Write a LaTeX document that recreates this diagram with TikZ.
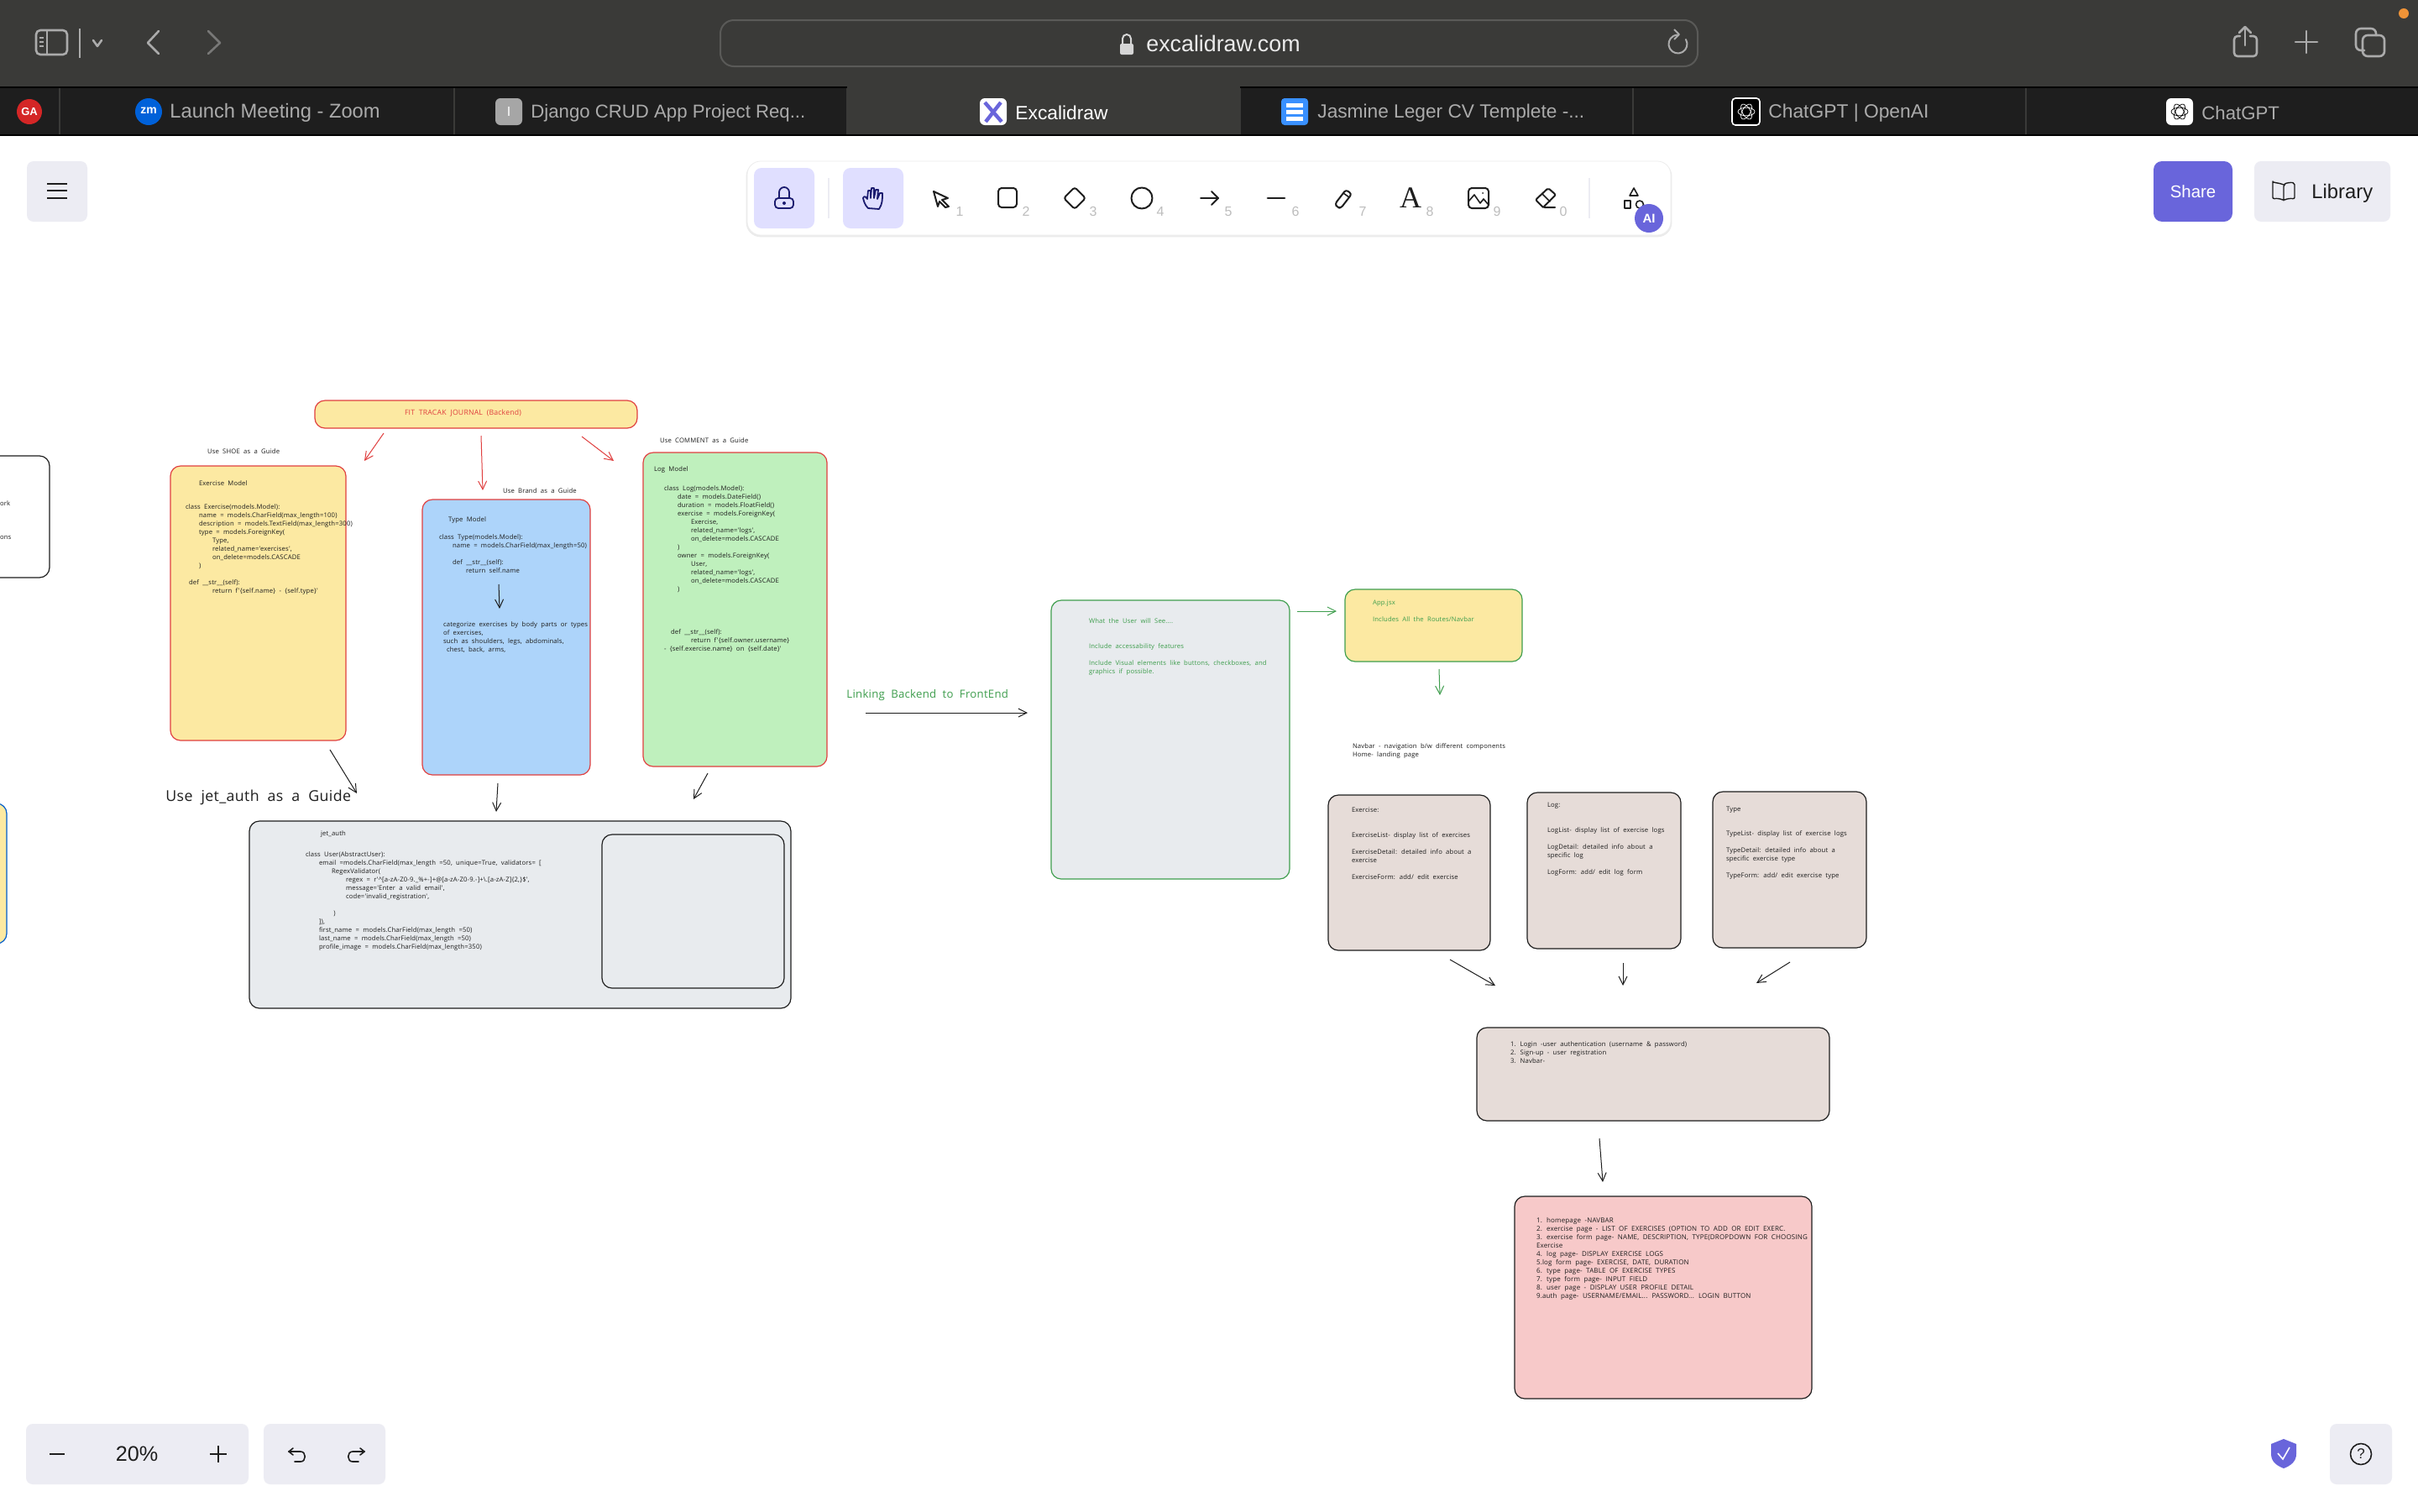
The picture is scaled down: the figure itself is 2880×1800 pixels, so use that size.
\documentclass[tikz,border=0pt]{standalone}
\usepackage{fontspec}
\setmainfont{Liberation Sans}
\newfontfamily\hand[LetterSpace=2,WordSpace=2]{Open Sans}
\newfontfamily\serifA{Liberation Serif}
\usetikzlibrary{arrows.meta}
\definecolor{cTop}{HTML}{3A3A38}
\definecolor{cTab}{HTML}{1E1E1E}
\definecolor{cTabTx}{HTML}{ABABAB}
\definecolor{cRed}{HTML}{E03F3F}
\definecolor{cGreen}{HTML}{3F9E4E}
\definecolor{cYel}{HTML}{FCE9A2}
\definecolor{cBlu}{HTML}{ADD4FA}
\definecolor{cGrn}{HTML}{BFF0BD}
\definecolor{cGry}{HTML}{E8EBEE}
\definecolor{cTau}{HTML}{E6DCD8}
\definecolor{cPnk}{HTML}{F7C9C9}
\definecolor{cBtn}{HTML}{ECECF3}
\definecolor{cLav}{HTML}{E0DFFF}
\definecolor{cPur}{HTML}{6965DB}
\definecolor{cNavy}{HTML}{1B1B6F}
\definecolor{cInk}{HTML}{1E1E1E}
\definecolor{cNum}{HTML}{BDBDBD}
\definecolor{cAddr}{HTML}{5A5A58}
\tikzset{
  card/.style={draw,rounded corners=6pt,line width=0.6pt,inner sep=0pt,outer sep=0pt},
  redcard/.style={card,draw=cRed},
  greencard/.style={card,draw=cGreen},
  inkcard/.style={card,draw=cInk},
  code/.style={font=\hand\fontsize{3.85}{5}\selectfont,text=cInk},
  pagecode/.style={font=\hand\fontsize{4}{5}\selectfont,text=cInk},
  greencode/.style={code,text=cGreen},
  redcode/.style={font=\hand\fontsize{4.35}{5}\selectfont,text=cRed},
  arr/.style={-{Straight Barb[length=5pt,width=5pt]},line width=0.5pt,cInk},
  redarr/.style={arr,cRed},
  greenarr/.style={arr,cGreen},
  tabtx/.style={text=cTabTx,anchor=west,inner sep=0pt},
  icon/.style={line width=1pt,cInk,line join=round,line cap=round},
  chrome/.style={line width=1.3pt,draw=#1,line join=round,line cap=round},
  chrome/.default={cTabTx},
  num/.style={font=\fontsize{8}{9}\selectfont,text=cNum,inner sep=0pt},
  btn/.style={fill=cBtn,rounded corners=4pt},
}
\newcommand\bx[6]{%
  \pgfmathsetmacro\bw{(#5-#3)/2}\pgfmathsetmacro\bh{(#6-#4)/2}%
  \node[#2,anchor=north west,minimum width=\bw pt,minimum height=\bh pt] (#1) at (#3,#4) {};}
\newcommand\tx[5]{\node[#2,anchor=north west,inner sep=0pt,outer sep=0pt,align=left] (#1) at (#3,{#4-4.5}) {\rule{0pt}{3.5pt}#5};}
\newcommand\ind[1]{\hspace*{#1pt}}
\newcommand\arw[6]{\coordinate (#1s) at (#3,#4);\coordinate (#1e) at (#5,#6);\draw[#2] (#1s) -- (#1e);}
\newcommand\knot[3]{\foreach \a in {0,60,120}{\draw[line width=0.35pt,#3,rotate around={\a:(#1,#2)}] (#1,#2) ellipse (5pt and 2.4pt);}}
\newcommand\fs[1]{\fontsize{#1}{14}\selectfont}
\begin{document}
\begin{tikzpicture}[x=0.5pt,y=-0.5pt]
\useasboundingbox (0,0) rectangle (2880,1800);
\fill[white] (0,0) rectangle (2880,1800);
% ---------- browser chrome
\fill[cTop] (0,0) rectangle (2880,160);
\fill[cTab] (0,104) rectangle (1009,160);
\fill[cTab] (1477,104) rectangle (2880,160);
\draw[black,line width=1pt] (0,104) -- (1009,104);
\draw[black,line width=1pt] (1477,104) -- (2880,104);
\draw[black,line width=1pt] (0,160.5) -- (2880,160.5);
\foreach \s in {71,541,1009,1477,1945,2413}{\draw[cTop,line width=0.6pt] (\s,105) -- (\s,160);}
\draw[draw=cAddr,line width=1pt,rounded corners=8pt] (858,24) rectangle (2022,79);
% sidebar icon
\draw[chrome,rounded corners=2.5pt] (43,36) rectangle (80,65);
\draw[chrome,line width=0.8pt] (56,36) -- (56,65);
\draw[cTabTx,line width=0.6pt] (95,34) -- (95,69);
\foreach \yy in {45,50,55}{\draw[cTabTx,line width=0.8pt] (47,\yy) -- (52,\yy);}
\draw[chrome] (111,48) -- (116,55) -- (121,48);
\draw[chrome] (189,37) -- (176,51) -- (189,64);
\draw[chrome=cTabTx!55!cTop] (248,37) -- (262,51) -- (248,64);
% address
\fill[cTabTx!50!white,rounded corners=1pt] (1334,52) rectangle (1350,65);
\draw[cTabTx!50!white,line width=1pt] (1337,52) -- (1337,46) arc (180:360:5) -- (1347,52);
\node[font=\fontsize{13.4}{15}\selectfont,text=white!92!black,inner sep=0pt] (addr) at (1457,52) {excalidraw.com};
\draw[chrome,line width=1pt] (2008,47) arc (-30:270:11);
\draw[cTabTx,line width=1pt,line join=round] (1994,35) -- (2000,41) -- (1994,47);
% top right
\fill[orange!70!brown!85!white] (2863,16) ellipse (6 and 6);
\draw[chrome,rounded corners=2pt] (2668,43) -- (2661,43) -- (2661,67) -- (2688,67) -- (2688,43) -- (2680,43);
\draw[chrome] (2674,54) -- (2674,32);
\draw[chrome] (2667,39) -- (2674,32) -- (2681,39);
\draw[chrome] (2747,37) -- (2747,63);
\draw[chrome] (2734,50) -- (2760,50);
\draw[chrome,rounded corners=3pt] (2816,60) -- (2806,60) -- (2806,34) -- (2830,34) -- (2830,42);
\draw[chrome,rounded corners=3pt] (2814,42) rectangle (2840,67);
% tabs
\fill[red!80!black!85!white] (35,133) circle[radius=15];
\node[font=\bfseries\fontsize{6.5}{7}\selectfont,text=white,inner sep=0pt] (ga) at (35,133) {GA};
\fill[blue!55!cyan!85!black] (177,133) circle[radius=16];
\node[font=\bfseries\fontsize{7}{8}\selectfont,text=white,inner sep=0pt] (zm) at (177,132) {zm};
\node[tabtx,font=\fs{11.85}] (t1) at (202,134.5) {Launch Meeting - Zoom};
\fill[gray!70,rounded corners=3pt] (590,117) rectangle (622,149);
\node[font=\fontsize{8}{9}\selectfont,text=white,inner sep=0pt] (ti) at (606,133) {I};
\node[tabtx,font=\fs{11.1}] (t2) at (632,134.5) {Django CRUD App Project Req...};
\fill[white,rounded corners=3pt] (1167,117) rectangle (1199,149);
\draw[cPur,line width=2.2pt] (1173,122) -- (1193,145);
\draw[cPur,line width=2.2pt] (1192,122) -- (1174,145);
\node[tabtx,text=white,font=\fs{11.4}] (t3) at (1209,134.5) {Excalidraw};
\fill[blue!35!cyan!70!white!75!blue,rounded corners=2pt] (1526,117) rectangle (1558,149);
\foreach \yy in {125,133,141}{\fill[white] (1532,\yy-2.5) rectangle (1552,\yy+2.5);}
\node[tabtx,font=\fs{11.35}] (t4) at (1569,134.5) {Jasmine Leger CV Templete -...};
\fill[black,draw=white,line width=0.8pt,rounded corners=2pt] (2063,117) rectangle (2096,149);
\knot{2080}{133}{white}
\node[tabtx,font=\fs{11.4}] (t5) at (2106,134.5) {ChatGPT | OpenAI};
\fill[white,rounded corners=3pt] (2580,117) rectangle (2612,149);
\knot{2596}{133}{black}
\node[tabtx,font=\fs{11.1}] (t6) at (2622,134.5) {ChatGPT};
% ---------- excalidraw UI
\fill[btn] (32,192) rectangle (104,264);
\foreach \yy in {219,227,236}{\draw[cInk,line width=1pt] (56,\yy) -- (80,\yy);}
\draw[black!8,line width=1.4pt,rounded corners=8pt] (890,194) rectangle (1990,281);
\fill[white,rounded corners=8pt] (890,192) rectangle (1990,280);
\draw[black!7,line width=0.4pt,rounded corners=8pt] (890,192) rectangle (1990,280);
\fill[cLav,rounded corners=4.5pt] (898,200) rectangle (970,272);
\fill[cLav,rounded corners=4.5pt] (1004,200) rectangle (1076,272);
\draw[cBtn,line width=0.6pt] (987,212) -- (987,260);
\draw[cBtn,line width=0.6pt] (1893,212) -- (1893,260);
\draw[cNavy,line width=0.9pt,rounded corners=2pt] (923,236) rectangle (945,248);
\draw[cNavy,line width=0.9pt] (928,236) -- (928,229) arc (180:360:6) -- (940,236);
\fill[cNavy] (934,242) circle[radius=2];
\draw[cNavy,line width=0.9pt,line join=round,line cap=round] (1034,248) .. controls (1030,244) and (1029,240) .. (1028,236) .. controls (1029,233) and (1031,234) .. (1033,237) -- (1034,227) -- (1037,227) -- (1037,236) -- (1038,224) -- (1041,224) -- (1041,236) -- (1043,226) -- (1046,226) -- (1045,237) -- (1048,230) -- (1051,230) .. controls (1051,238) and (1051,243) .. (1047,249) -- cycle;
\draw[icon] (1112,228) -- (1129,236) -- (1122,238) -- (1130,246) -- (1126,247) -- (1119,240) -- (1117,246) -- cycle;
\draw[icon,rounded corners=2pt] (1189,224) rectangle (1211,247);
\draw[icon,rounded corners=1.5pt] (1280,223) -- (1293,236) -- (1280,249) -- (1267,236) -- cycle;
\draw[icon] (1360,236) circle[radius=12.5];
\draw[icon] (1430,236) -- (1451,236);
\draw[icon] (1443,228) -- (1451,236) -- (1443,244);
\draw[icon,line width=1.4pt] (1510,236) -- (1530,236);
\draw[icon,rounded corners=1.5pt] (1593,247) -- (1590,243) -- (1603,226) -- (1610,231) -- (1597,248) -- cycle;
\draw[icon,line width=0.8pt] (1600,230) -- (1607,235);
\node[font=\serifA\fontsize{18}{20}\selectfont,text=cInk,inner sep=0pt] (afont) at (1680,236) {A};
\draw[icon,rounded corners=2pt] (1749,224) rectangle (1773,248);
\draw[icon,line width=0.8pt] (1749,240) -- (1756,232) -- (1763,242) -- (1767,237) -- (1773,244);
\fill[cInk] (1766,230) circle[radius=1];
\draw[icon,rounded corners=1pt] (1838,247) -- (1829,238) -- (1844,224) -- (1853,232) -- (1838,247) -- (1852,247);
\draw[icon,line width=0.8pt] (1837,231) -- (1846,240);
\draw[icon,line width=0.8pt] (1946,224) -- (1951,233) -- (1941,233) -- cycle;
\draw[icon,line width=0.8pt] (1935,239) rectangle (1942,248);
\draw[icon,line width=0.8pt] (1953,243.5) circle[radius=4.5];
\fill[cPur] (1964,260) circle[radius=17];
\node[font=\bfseries\fontsize{7.5}{8}\selectfont,text=white,inner sep=0pt] (ai) at (1964,260) {AI};
\node[num] (n1) at (1143,252) {1};
\node[num] (n2) at (1222,252) {2};
\node[num] (n3) at (1302,252) {3};
\node[num] (n4) at (1382,252) {4};
\node[num] (n5) at (1463,252) {5};
\node[num] (n6) at (1543,252) {6};
\node[num] (n7) at (1623,252) {7};
\node[num] (n8) at (1703,252) {8};
\node[num] (n9) at (1783,252) {9};
\node[num] (n0) at (1862,252) {0};
\fill[cPur,rounded corners=5pt] (2565,192) rectangle (2659,264);
\node[font=\fontsize{10.2}{12}\selectfont,text=white,inner sep=0pt] (share) at (2612,228) {Share};
\fill[btn] (2685,192) rectangle (2847,264);
\draw[icon,line width=0.7pt,rounded corners=1pt] (2720,220) .. controls (2712,217) and (2707,218) .. (2707,218) -- (2707,237) .. controls (2712,236) and (2717,237) .. (2720,239) .. controls (2723,237) and (2728,236) .. (2733,237) -- (2733,218) .. controls (2728,217) and (2723,218) .. (2720,220) -- (2720,239);
\node[font=\fontsize{11.9}{13}\selectfont,text=cInk,inner sep=0pt,anchor=west] (library) at (2753,230) {Library};
% bottom
\fill[btn] (31,1696) rectangle (296,1768);
\draw[cInk,line width=1pt] (59,1732) -- (77,1732);
\draw[cInk,line width=1pt] (260,1722) -- (260,1742);
\draw[cInk,line width=1pt] (250,1732) -- (270,1732);
\node[font=\fontsize{12.6}{14}\selectfont,text=cInk,inner sep=0pt] (zoomp) at (163,1732) {20\%};
\fill[btn] (314,1696) rectangle (459,1768);
\draw[icon,line width=0.8pt] (349,1725) -- (344,1729) -- (349,1733);
\draw[icon,line width=0.8pt] (344,1729) -- (358,1729) .. controls (365,1729) and (365,1741) .. (358,1741) -- (351,1741);
\draw[icon,line width=0.8pt] (429,1725) -- (434,1729) -- (429,1733);
\draw[icon,line width=0.8pt] (434,1729) -- (420,1729) .. controls (413,1729) and (413,1741) .. (420,1741) -- (427,1741);
\fill[cPur] (2720,1714) -- (2735,1720) -- (2735,1732) .. controls (2735,1741) and (2728,1746) .. (2720,1749) .. controls (2712,1746) and (2705,1741) .. (2705,1732) -- (2705,1720) -- cycle;
\draw[white,line width=0.8pt] (2713,1731) -- (2719,1738) -- (2727,1724);
\fill[btn] (2775,1696) rectangle (2849,1768);
\draw[icon,line width=0.8pt] (2812,1732) circle[radius=12.5];
\node[font=\fontsize{8.5}{10}\selectfont,text=cInk,inner sep=0pt] (help) at (2812,1732) {?};
% ---------- drawing: cut-off cards on the left
\bx{leftcard}{inkcard,fill=white}{-40}{543}{59}{688}
\tx{leftt1}{code}{0}{600}{ork}
\tx{leftt2}{code}{0}{640}{ons}
\bx{leftyel}{card,draw=blue!55!cyan!80!black,fill=cYel}{-40}{957}{8}{1124}
% title
\bx{title}{redcard,fill=cYel}{375}{477}{759}{510}
\tx{titlet}{redcode}{482}{492}{FIT TRACAK JOURNAL (Backend)}
\arw{ra}{redarr}{457}{516}{434}{549}
\arw{rb}{redarr}{573}{519}{575}{584}
\arw{rc}{redarr}{693}{520}{731}{549}
% exercise
\tx{gshoe}{code}{247}{538}{Use SHOE as a Guide}
\bx{excard}{redcard,fill=cYel}{203}{555}{412}{882}
\tx{exhead}{code}{237}{576}{Exercise Model}
\tx{excode}{code}{221}{604}{class Exercise(models.Model):\\
\ind{8}name = models.CharField(max\_length=100)\\
\ind{8}description = models.TextField(max\_length=300)\\
\ind{8}type = models.ForeignKey(\\
\ind{16}Type,\\
\ind{16}related\_name='exercises',\\
\ind{16}on\_delete=models.CASCADE\\
\ind{8})\\[5pt]
\ind{2}def \_\_str\_\_(self):\\
\ind{16}return f'\{self.name\} - \{self.type\}'}
% type
\tx{gbrand}{code}{599}{585}{Use Brand as a Guide}
\bx{tycard}{redcard,fill=cBlu}{503}{595}{703}{923}
\tx{tyhead}{code}{534}{619}{Type Model}
\tx{tycode}{code}{523}{640}{class Type(models.Model):\\
\ind{8}name = models.CharField(max\_length=50)\\[5pt]
\ind{8}def \_\_str\_\_(self):\\
\ind{16}return self.name}
\arw{tyin}{arr}{594}{696}{595}{725}
\tx{tynote}{code}{528}{744}{categorize exercises by body parts or types\\
of exercises,\\
such as shoulders, legs, abdominals,\\
\ind{2}chest, back, arms,}
% log
\tx{gcomm}{code}{786}{525}{Use COMMENT as a Guide}
\bx{lgcard}{redcard,fill=cGrn}{766}{539}{985}{913}
\tx{lghead}{code}{779}{559}{Log Model}
\tx{lgcode}{code}{791}{582}{class Log(models.Model):\\
\ind{8}date = models.DateField()\\
\ind{8}duration = models.FloatField()\\
\ind{8}exercise = models.ForeignKey(\\
\ind{16}Exercise,\\
\ind{16}related\_name='logs',\\
\ind{16}on\_delete=models.CASCADE\\
\ind{8})\\
\ind{8}owner = models.ForeignKey(\\
\ind{16}User,\\
\ind{16}related\_name='logs',\\
\ind{16}on\_delete=models.CASCADE\\
\ind{8})}
\tx{lgdef}{code}{791}{753}{\ind{4}def \_\_str\_\_(self):\\
\ind{16}return f'\{self.owner.username\}\\
- \{self.exercise.name\} on \{self.date\}'}
% jet auth
\arw{ja}{arr}{393}{893}{425}{945}
\arw{jb}{arr}{593}{933}{591}{967}
\arw{jc}{arr}{843}{921}{826}{952}
\node[font=\hand\fontsize{8.9}{10}\selectfont,text=cInk,inner sep=0pt,anchor=west] (gjet) at (197,950) {Use jet\_auth as a Guide};
\bx{jetcard}{inkcard,fill=cGry}{297}{978}{942}{1201}
\bx{jetin}{inkcard}{717}{994}{934}{1177}
\tx{jethead}{code}{382}{993}{jet\_auth}
\tx{jetcode}{code}{364}{1018}{class User(AbstractUser):\\
\ind{8}email =models.CharField(max\_length =50, unique=True, validators= [\\
\ind{15.5}RegexValidator(\\
\ind{24}regex = r'\textasciicircum[a-zA-Z0-9.\_\%+-]+@[a-zA-Z0-9.-]+\textbackslash.[a-zA-Z]\{2,\}\$',\\
\ind{24}message='Enter a valid email',\\
\ind{24}code='invalid\_registration',\\[5pt]
\ind{16}\,)\\
\ind{8}]),\\
\ind{8}first\_name = models.CharField(max\_length =50)\\
\ind{8}last\_name = models.CharField(max\_length =50)\\
\ind{8}profile\_image = models.CharField(max\_length=350)}
% link
\node[font=\hand\fontsize{6.6}{8}\selectfont,text=cGreen,inner sep=0pt,anchor=west] (linkt) at (1008,828) {Linking Backend to FrontEnd};
\arw{lk}{arr}{1031}{849}{1224}{849}
\bx{seecard}{greencard,fill=cGry}{1252}{715}{1536}{1047}
\tx{seehead}{greencode}{1297}{740}{What the User will See....}
\tx{seeinc}{greencode}{1297}{770}{Include accessability features\\[5pt]
Include Visual elements like buttons, checkboxes, and\\
graphics if possible.}
\arw{gr}{greenarr}{1545}{728}{1592}{728}
\bx{appcard}{greencard,fill=cYel}{1602}{702}{1813}{788}
\tx{apphead}{greencode}{1635}{718}{App.jsx}
\tx{appinc}{greencode}{1635}{738}{Includes All the Routes/Navbar}
\arw{gd}{greenarr}{1714}{797}{1715}{828}
\tx{navt}{code}{1611}{889}{Navbar - navigation b/w different components\\
Home- landing page}
% components
\bx{excomp}{inkcard,fill=cTau}{1582}{947}{1775}{1132}
\tx{excomph}{code}{1610}{965}{Exercise:}
\tx{excompt}{code}{1610}{995}{ExerciseList- display list of exercises\\[5pt]
ExerciseDetail: detailed info about a\\
exercise\\[5pt]
ExerciseForm: add/ edit exercise}
\bx{lgcomp}{inkcard,fill=cTau}{1819}{944}{2002}{1130}
\tx{lgcomph}{code}{1843}{959}{Log:}
\tx{lgcompt}{code}{1843}{989}{LogList- display list of exercise logs\\[5pt]
LogDetail: detailed info about a\\
specific log\\[5pt]
LogForm: add/ edit log form}
\bx{tycomp}{inkcard,fill=cTau}{2040}{943}{2223}{1129}
\tx{tycomph}{code}{2056}{964}{Type}
\tx{tycompt}{code}{2056}{993}{TypeList- display list of exercise logs\\[5pt]
TypeDetail: detailed info about a\\
specific exercise type\\[5pt]
TypeForm: add/ edit exercise type}
\arw{ca}{arr}{1727}{1143}{1781}{1174}
\arw{cb}{arr}{1933}{1147}{1933}{1174}
\arw{cc}{arr}{2132}{1146}{2092}{1171}
% auth
\bx{authcard}{inkcard,fill=cTau}{1759}{1224}{2179}{1335}
\tx{autht}{code}{1799}{1244}{1. Login -user authentication (username \& password)\\
2. Sign-up - user registration\\
3. Navbar-}
\arw{ad}{arr}{1905}{1356}{1909}{1408}
% pages
\bx{pgcard}{inkcard,fill=cPnk}{1804}{1425}{2158}{1666}
\tx{pgt}{pagecode}{1830}{1454}{1. homepage -NAVBAR\\
2. exercise page - LIST OF EXERCISES (OPTION TO ADD OR EDIT EXERC.\\
3. exercise form page- NAME, DESCRIPTION, TYPE(DROPDOWN FOR CHOOSING\\
Exercise\\
4. log page- DISPLAY EXERCISE LOGS\\
5.log form page- EXERCISE, DATE, DURATION\\
6. type page- TABLE OF EXERCISE TYPES\\
7. type form page- INPUT FIELD\\
8. user page - DISPLAY USER PROFILE DETAIL\\
9.auth page- USERNAME/EMAIL... PASSWORD... LOGIN BUTTON}
\end{tikzpicture}
\end{document}
